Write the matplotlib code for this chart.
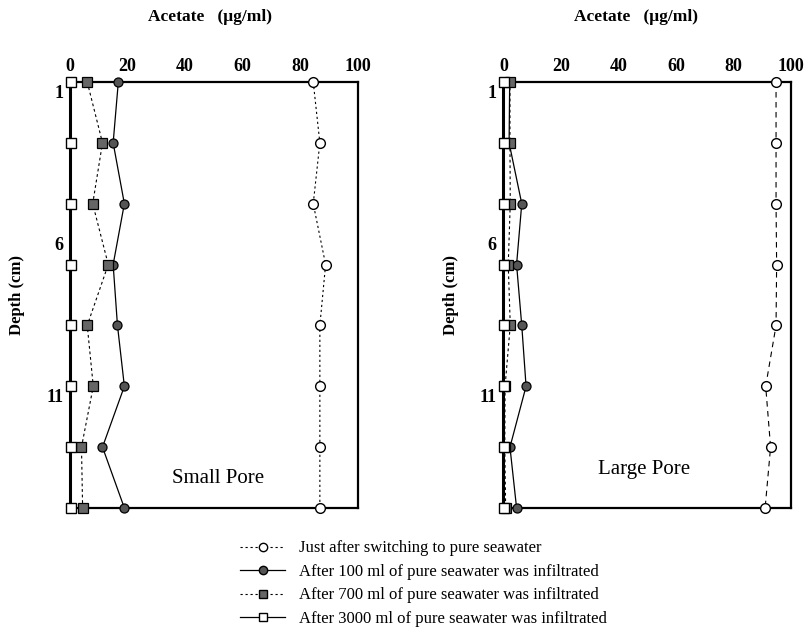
import matplotlib.pyplot as plt
from matplotlib.lines import Line2D

plt.rcParams['font.family'] = ['Liberation Serif', 'DejaVu Serif']

# depth of each sampling point (cm)
depth = [1, 3, 5, 7, 9, 11, 13, 15]

# Small pore column, acetate (ug/ml)
small_just = [84.5, 86.8, 84.5, 88.8, 86.8, 86.8, 86.8, 86.8]
small_100 = [16.8, 15.0, 18.9, 15.0, 16.5, 18.9, 11.3, 18.9]
small_700 = [6.0, 11.3, 7.9, 13.3, 6.0, 8.1, 4.0, 4.4]
small_3000 = [0.3, 0.3, 0.3, 0.3, 0.3, 0.3, 0.3, 0.3]

# Large pore column
large_just = [94.8, 94.8, 94.8, 95.0, 94.8, 91.2, 92.9, 91.0]
large_100 = [2.2, 2.0, 6.4, 4.6, 6.4, 7.9, 2.3, 4.6]
large_700 = [2.3, 2.3, 2.4, 1.7, 2.4, 0.6, 0.5, 0.8]
large_3000 = [0.3, 0.3, 0.3, 0.3, 0.3, 0.3, 0.3, 0.3]

xticks = [0, 20, 40, 60, 80, 100]
depth_ticks = [1.3, 6.3, 11.3]
depth_labels = ['1', '6', '11']

legend_labels = ['Just after switching to pure seawater',
                 'After 100 ml of pure seawater was infiltrated',
                 'After 700 ml of pure seawater was infiltrated',
                 'After 3000 ml of pure seawater was infiltrated']

fig = plt.figure(figsize=(8.06, 6.44), dpi=100)
ax1 = fig.add_axes([0.0868, 0.2112, 0.3572, 0.6615])
ax2 = fig.add_axes([0.6245, 0.2112, 0.3569, 0.6615])


def draw_panel(ax, just, v100, v700, v3000, name, dash, name_xy):
    ax.plot(just, depth, color='black', lw=0.8, ls=(0, dash), marker='o',
            ms=7, mfc='white', mec='black', mew=1.0, clip_on=False, zorder=3)
    ax.plot(v100, depth, color='black', lw=0.9, ls='-', marker='o',
            ms=6.5, mfc='#555555', mec='black', mew=0.9, clip_on=False, zorder=4)
    ax.plot(v700, depth, color='black', lw=0.8, ls=(0, (2.5, 2.5)), marker='s',
            ms=6.5, mfc='#666666', mec='black', mew=0.9, clip_on=False, zorder=5)
    ax.plot(v3000, depth, color='black', lw=1.2, ls='-', marker='s',
            ms=7, mfc='white', mec='black', mew=1.0, clip_on=False, zorder=6)
    ax.set_xlim(0, 100)
    ax.set_ylim(15, 1)
    ax.xaxis.tick_top()
    ax.set_xticks(xticks)
    ax.set_xticklabels([str(t) for t in xticks], fontsize=13, fontweight='bold')
    ax.set_yticks(depth_ticks)
    ax.set_yticklabels(depth_labels, fontsize=13, fontweight='bold')
    ax.tick_params(length=0, pad=5)
    ax.tick_params(axis='y', pad=5)
    for s in ax.spines.values():
        s.set_linewidth(1.6)
    ax.spines['left'].set_linewidth(2.2)
    ax.set_ylabel('Depth (cm)', fontsize=12, fontweight='bold', labelpad=15)
    ax.text(name_xy[0], name_xy[1], name, transform=ax.transAxes,
            ha='center', va='center', fontsize=15)


draw_panel(ax1, small_just, small_100, small_700, small_3000, 'Small Pore',
           (2, 2.5), (0.514, 0.07))
draw_panel(ax2, large_just, large_100, large_700, large_3000, 'Large Pore',
           (5, 4), (0.49, 0.09))

fig.text(210 / 806, 1 - 17 / 644, 'Acetate   (\u03bcg/ml)', ha='center',
         va='center', fontsize=12.5, fontweight='bold')
fig.text(636 / 806, 1 - 17 / 644, 'Acetate   (\u03bcg/ml)', ha='center',
         va='center', fontsize=12.5, fontweight='bold')

handles = [
    Line2D([], [], color='black', lw=0.8, ls=(0, (2, 2.5)), marker='o', ms=6,
           mfc='white', mec='black'),
    Line2D([], [], color='black', lw=0.9, ls='-', marker='o', ms=6,
           mfc='#555555', mec='black'),
    Line2D([], [], color='black', lw=0.8, ls=(0, (2, 2.5)), marker='s', ms=6,
           mfc='#666666', mec='black'),
    Line2D([], [], color='black', lw=0.9, ls='-', marker='s', ms=6,
           mfc='white', mec='black'),
]
fig.legend(handles, legend_labels, loc='upper left',
           bbox_to_anchor=(232 / 806, 1 - 532 / 644), frameon=False,
           fontsize=12, handlelength=2.7, handletextpad=0.8, labelspacing=0.45,
           borderpad=0)

fig.savefig('out.png', dpi=100)
